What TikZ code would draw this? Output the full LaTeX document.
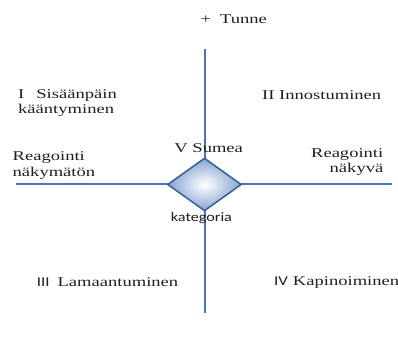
\documentclass[tikz,border=0pt]{standalone}
\usepackage{fontspec}
\setmainfont{Liberation Serif}[FakeStretch=1.38]
\newfontfamily\labelsans{Carlito}[FakeStretch=1.25]
\usetikzlibrary{shapes.geometric}
\definecolor{axisblue}{HTML}{4A76B8}
\definecolor{rimblue}{HTML}{3A5F92}
\definecolor{fillblue}{HTML}{86A2D2}
\definecolor{ink}{HTML}{1E1E1E}
\tikzset{
  axis/.style={draw=axisblue, line width=2bp},
  lbl/.style={inner sep=0pt, text=ink, font=\fontsize{13.5}{15.5}\selectfont},
  sanslbl/.style={inner sep=0pt, text=ink, font=\labelsans\fontsize{13}{15}\selectfont},
  fuzzy/.style={shape=diamond, draw=rimblue, line width=1.5bp, inner sep=0pt,
    minimum width=74bp, minimum height=53bp,
    inner color=white, outer color=fillblue}
}
\begin{document}
\begin{tikzpicture}[x=1bp, y=-1bp]
  \useasboundingbox (0,0) rectangle (398,337);
  % axis end points
  \coordinate (ytop) at (205,49);
  \coordinate (ybot) at (205,313);
  \coordinate (xleft) at (16,183.5);
  \coordinate (xright) at (392,183.5);
  \draw[axis] (ytop) -- (ybot);
  \draw[axis] (xleft) -- (xright);
  % central category
  \node[fuzzy] (sumea) at (204.5,184.5) {};
  % axis titles
  \node[lbl, anchor=base west] (tunne) at (200.5,23) {+\hspace{9bp}Tunne};
  \node[lbl, anchor=base west] (leftA) at (12.5,160.7) {Reagointi};
  \node[lbl, anchor=base west] (leftB) at (12.5,176) {näkymätön};
  \node[lbl, anchor=base east] (rightA) at (383.5,157.3) {Reagointi};
  \node[lbl, anchor=base east] (rightB) at (383.5,172.5) {näkyvä};
  % quadrants
  \node[lbl, anchor=base west] (q1a) at (18,98) {I\hspace{12bp}Sisäänpäin};
  \node[lbl, anchor=base west] (q1b) at (18,113.5) {kääntyminen};
  \node[lbl, anchor=base west] (q2) at (262,99) {II Innostuminen};
  \node[lbl, anchor=base west] (q3) at (36.7,286.7) {{\labelsans III}\hspace{8bp}Lamaantuminen};
  \node[lbl, anchor=base west] (q4) at (274,285.5) {{\labelsans IV}\hspace{5bp}Kapinoiminen};
  % labels of the central category
  \node[lbl, anchor=base] (vlabel) at (208.7,152.7) {V Sumea};
  \node[sanslbl, anchor=base] (kat) at (201.4,221.7) {kategoria};
\end{tikzpicture}
\end{document}
